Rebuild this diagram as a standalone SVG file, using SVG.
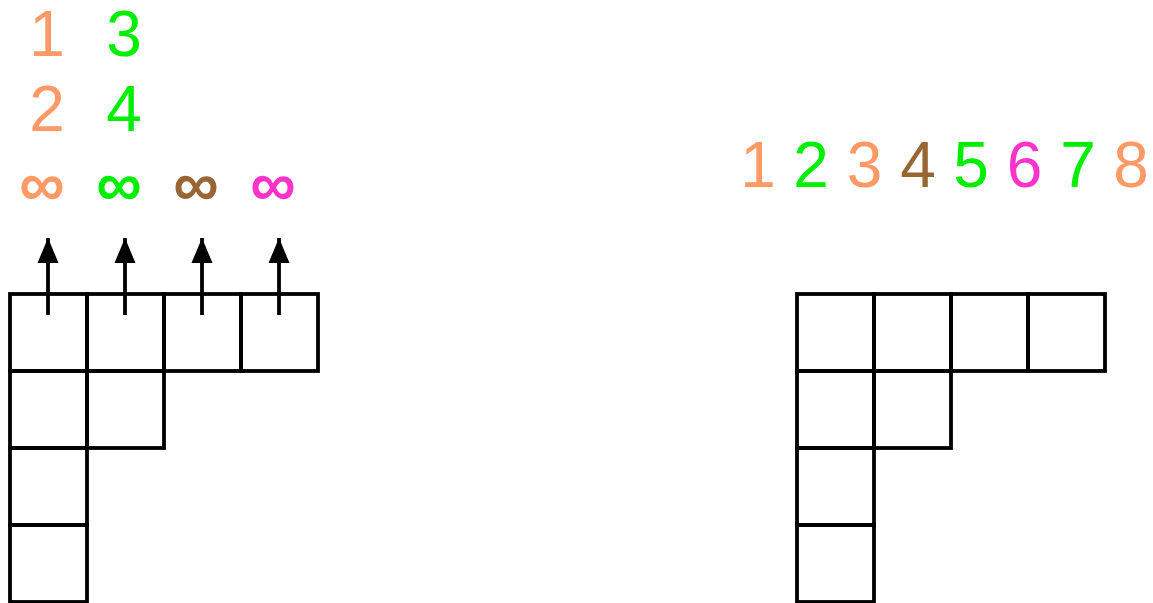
<svg xmlns="http://www.w3.org/2000/svg" width="1153" height="603" viewBox="0 0 1153 603">
<style>
.cell{fill:none;stroke:#000;stroke-width:3.8}
.t{font-family:"Liberation Sans",Arial,sans-serif;font-size:64px;text-anchor:middle}
.inf{font-family:"Liberation Sans",Arial,sans-serif;font-size:64px;text-anchor:middle;font-weight:bold}
.o{fill:#FF9966}.g{fill:#00EE00}.b{fill:#996633}.m{fill:#FF33CC}
.arr{stroke:#000;stroke-width:3.8;fill:none}
</style>
<defs>
<marker id="ah" markerUnits="userSpaceOnUse" markerWidth="26" markerHeight="22" refX="25" refY="11" orient="auto" viewBox="0 0 26 22">
<polygon points="0,0.5 25,11 0,21.5" fill="#000"/>
</marker>
</defs>
<g id="left-grid">
<rect class="cell" x="10" y="294" width="77" height="77"/>
<rect class="cell" x="87" y="294" width="77" height="77"/>
<rect class="cell" x="164" y="294" width="77" height="77"/>
<rect class="cell" x="241" y="294" width="77" height="77"/>
<rect class="cell" x="10" y="371" width="77" height="77"/>
<rect class="cell" x="87" y="371" width="77" height="77"/>
<rect class="cell" x="10" y="448" width="77" height="77"/>
<rect class="cell" x="10" y="525" width="77" height="77"/>
</g>
<g id="right-grid">
<rect class="cell" x="797" y="294" width="77" height="77"/>
<rect class="cell" x="874" y="294" width="77" height="77"/>
<rect class="cell" x="951" y="294" width="77" height="77"/>
<rect class="cell" x="1028" y="294" width="77" height="77"/>
<rect class="cell" x="797" y="371" width="77" height="77"/>
<rect class="cell" x="874" y="371" width="77" height="77"/>
<rect class="cell" x="797" y="448" width="77" height="77"/>
<rect class="cell" x="797" y="525" width="77" height="77"/>
</g>
<g id="connectors">
<line class="arr" x1="48" y1="315" x2="48" y2="238" marker-end="url(#ah)"/>
<line class="arr" x1="125" y1="315" x2="125" y2="238" marker-end="url(#ah)"/>
<line class="arr" x1="202" y1="315" x2="202" y2="238" marker-end="url(#ah)"/>
<line class="arr" x1="279" y1="315" x2="279" y2="238" marker-end="url(#ah)"/>
</g>
<g id="left-labels">
<text class="t o" x="47" y="56">1</text>
<text class="t o" x="47" y="131">2</text>
<text class="t g" x="124" y="56">3</text>
<text class="t g" x="124" y="131">4</text>
<text class="inf o" x="42" y="206">∞</text>
<text class="inf g" x="119" y="206">∞</text>
<text class="inf b" x="196" y="206">∞</text>
<text class="inf m" x="273" y="206">∞</text>
</g>
<g id="right-labels">
<text class="t o" x="758" y="187">1</text>
<text class="t g" x="811" y="187">2</text>
<text class="t o" x="864.5" y="187">3</text>
<text class="t b" x="918" y="187">4</text>
<text class="t g" x="971" y="187">5</text>
<text class="t m" x="1024.5" y="187">6</text>
<text class="t g" x="1078" y="187">7</text>
<text class="t o" x="1131" y="187">8</text>
</g>
</svg>
